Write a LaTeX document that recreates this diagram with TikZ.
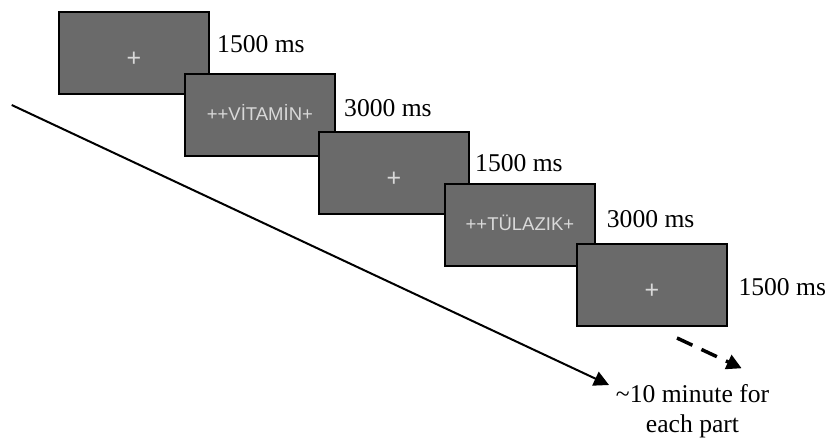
\documentclass[tikz,border=0pt]{standalone}
\usepackage{fontspec}
\setmainfont{Liberation Serif}
\newfontfamily\boxfont{Liberation Sans}
\usetikzlibrary{arrows.meta}
\definecolor{screen}{HTML}{6A6A6A}
\definecolor{screentext}{HTML}{D9D9D9}
\begin{document}
\begin{tikzpicture}[x=1pt,y=-1pt,
  screenbox/.style={draw=black, line width=1.8pt, fill=screen,
    minimum width=150pt, minimum height=82pt, inner sep=0pt, anchor=north west},
  wordtext/.style={text=screentext, inner sep=0pt, anchor=base,
    font=\boxfont\fontsize{18.5}{22}\selectfont},
  plustext/.style={text=screentext, inner sep=0pt, anchor=center,
    font=\boxfont\fontsize{25}{28}\selectfont},
  timelabel/.style={inner sep=0pt, font=\fontsize{25.6}{30}\selectfont},
  headtip/.style={-{Triangle[length=15pt,width=15pt]}}]
\useasboundingbox (0,0) rectangle (829,439);

\node[screenbox] (b1) at (58,11) {};
\node[plustext] (w1) at ([yshift=-6.5pt]b1.center) {+};
\node[timelabel, anchor=base west] (l1) at (217,52.3) {1500 ms};

\node[screenbox] (b2) at (184,73) {};
\node[wordtext] (w2) at ([yshift=-5.8pt]b2.center) {++VİTAMİN+};
\node[timelabel, anchor=base west] (l2) at (344,116.5) {3000 ms};

\node[screenbox] (b3) at (318,131) {};
\node[plustext] (w3) at ([yshift=-6.5pt]b3.center) {+};
\node[timelabel, anchor=base west] (l3) at (475,171.7) {1500 ms};

\node[screenbox] (b4) at (444,183) {};
\node[wordtext] (w4) at ([yshift=-5.8pt]b4.center) {++TÜLAZIK+};
\node[timelabel, anchor=base west] (l4) at (606.7,227.3) {3000 ms};

\node[screenbox] (b5) at (576,243) {};
\node[plustext] (w5) at ([yshift=-6.5pt]b5.center) {+};
\node[timelabel, anchor=base west] (l5) at (738.3,295.7) {1500 ms};

\coordinate (ts) at (11.7,105);
\coordinate (te) at (609,385);
\draw[line width=2pt, headtip] (ts) -- (te);

\coordinate (ds) at (677,338);
\coordinate (de) at (741.7,368.3);
\draw[line width=3.5pt, dash pattern=on 17pt off 10pt, headtip] (ds) -- (de);

\node[timelabel, anchor=base] (e1) at (692.5,402.3) {\textasciitilde 10 minute for};
\node[timelabel, anchor=base] (e2) at (692.5,432.7) {each part};
\end{tikzpicture}
\end{document}
